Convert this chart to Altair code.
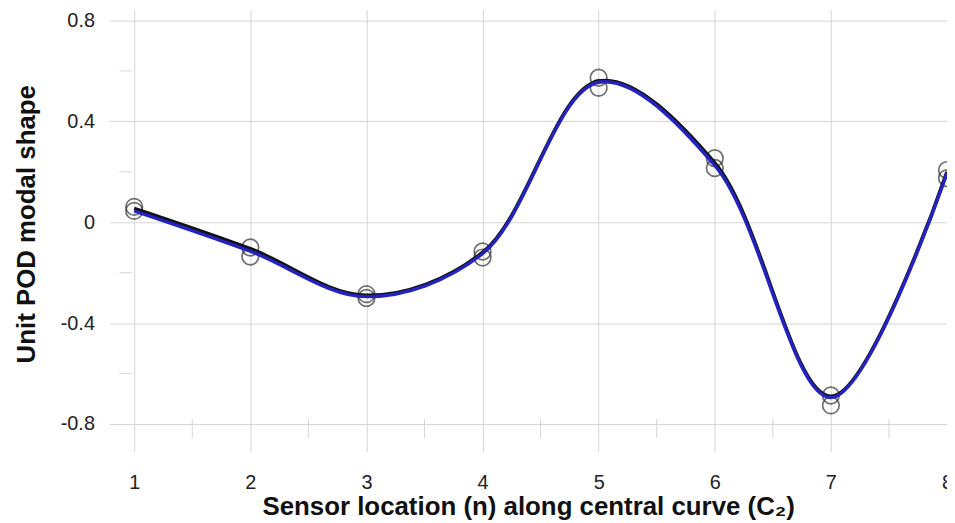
import altair as alt
import pandas as pd

# ---- data ----
sensors = [1, 2, 3, 4, 5, 6, 7, 8]
curve_black = [0.055, -0.105, -0.29, -0.12, 0.56, 0.235, -0.69, 0.20]
curve_blue = [0.045, -0.115, -0.295, -0.125, 0.555, 0.225, -0.695, 0.195]
circles_a = [0.061, -0.10, -0.285, -0.116, 0.573, 0.254, -0.687, 0.207]
circles_b = [0.045, -0.136, -0.30, -0.14, 0.533, 0.215, -0.726, 0.175]

x_ticks = [1, 2, 3, 4, 5, 6, 7, 8]
x_minor = [1.5, 2.5, 3.5, 4.5, 5.5, 6.5, 7.5]
y_ticks = [-0.8, -0.4, 0, 0.4, 0.8]
y_minor = [-0.6, -0.2, 0.2, 0.6]

x_title = "Sensor location (n) along central curve (C\u2082)"
y_title = "Unit POD modal shape"

FONT = "Liberation Sans, Arial, sans-serif"
W, H = 843, 431
GRID = "#d6d6d6"

lines_df = pd.DataFrame({
    "n": sensors * 2,
    "v": curve_black + curve_blue,
    "s": ["black"] * len(sensors) + ["blue"] * len(sensors),
})
pts_df = pd.DataFrame({
    "n": sensors * 2,
    "v": circles_a + circles_b,
})
xminor_df = pd.DataFrame({"n": x_minor})
yminor_df = pd.DataFrame({"v": y_minor})

xscale = alt.Scale(domain=[0.786, 8.0], nice=False, zero=False)
yscale = alt.Scale(domain=[-0.855, 0.843], nice=False, zero=False)

x_axis = alt.Axis(
    values=x_ticks, grid=True, gridColor=GRID, gridWidth=1, format="d",
    domain=False, ticks=True, tickSize=14, tickColor=GRID, tickWidth=1,
    labelFlush=False, labelOverlap=False,
    labelFontSize=20, labelFont=FONT, labelColor="#222", labelPadding=21,
    titleFontSize=26, titleFont=FONT, titleFontWeight="bold", titleColor="#111",
    titleY=56,
)
y_axis = alt.Axis(
    values=y_ticks, grid=True, gridColor=GRID, gridWidth=1,
    labelExpr="replace(format(datum.value, '~g'), '\u2212', '-')",
    domain=False, ticks=False, tickSize=0, labelFlush=False,
    labelFontSize=20, labelFont=FONT, labelColor="#222", labelPadding=15,
    titleFontSize=26, titleFont=FONT, titleFontWeight="bold", titleColor="#111",
    titleX=-70,
)

X = alt.X("n:Q", scale=xscale, axis=x_axis, title=x_title)
Y = alt.Y("v:Q", scale=yscale, axis=y_axis, title=y_title)

circles = alt.Chart(pts_df).mark_point(
    shape="circle", filled=False, size=280, stroke="#333", strokeWidth=1.7
).encode(x=X, y=Y)

line_black = alt.Chart(lines_df).transform_filter(alt.datum.s == "black").mark_line(
    interpolate="catmull-rom", color="#111", strokeWidth=3.6
).encode(x=X, y=Y)

line_blue = alt.Chart(lines_df).transform_filter(alt.datum.s == "blue").mark_line(
    interpolate="catmull-rom", color="#2323c0", strokeWidth=3.4
).encode(x=X, y=Y)

xminor = alt.Chart(xminor_df).mark_rule(color=GRID, strokeWidth=1).encode(
    x=alt.X("n:Q", scale=xscale),
    y=alt.value(H - 19), y2=alt.value(H),
)
yminor = alt.Chart(yminor_df).mark_rule(color=GRID, strokeWidth=1).encode(
    y=alt.Y("v:Q", scale=yscale),
    x=alt.value(10), x2=alt.value(23),
)

chart = alt.layer(xminor, yminor, circles, line_black, line_blue).properties(
    width=W, height=H,
    padding={"left": 102, "top": 0, "right": 0, "bottom": 82},
    autosize=alt.AutoSizeParams(type="none"),
    background="white",
).configure_view(stroke=None)

chart.save("out.html", embed_options={"renderer": "svg", "actions": False})
